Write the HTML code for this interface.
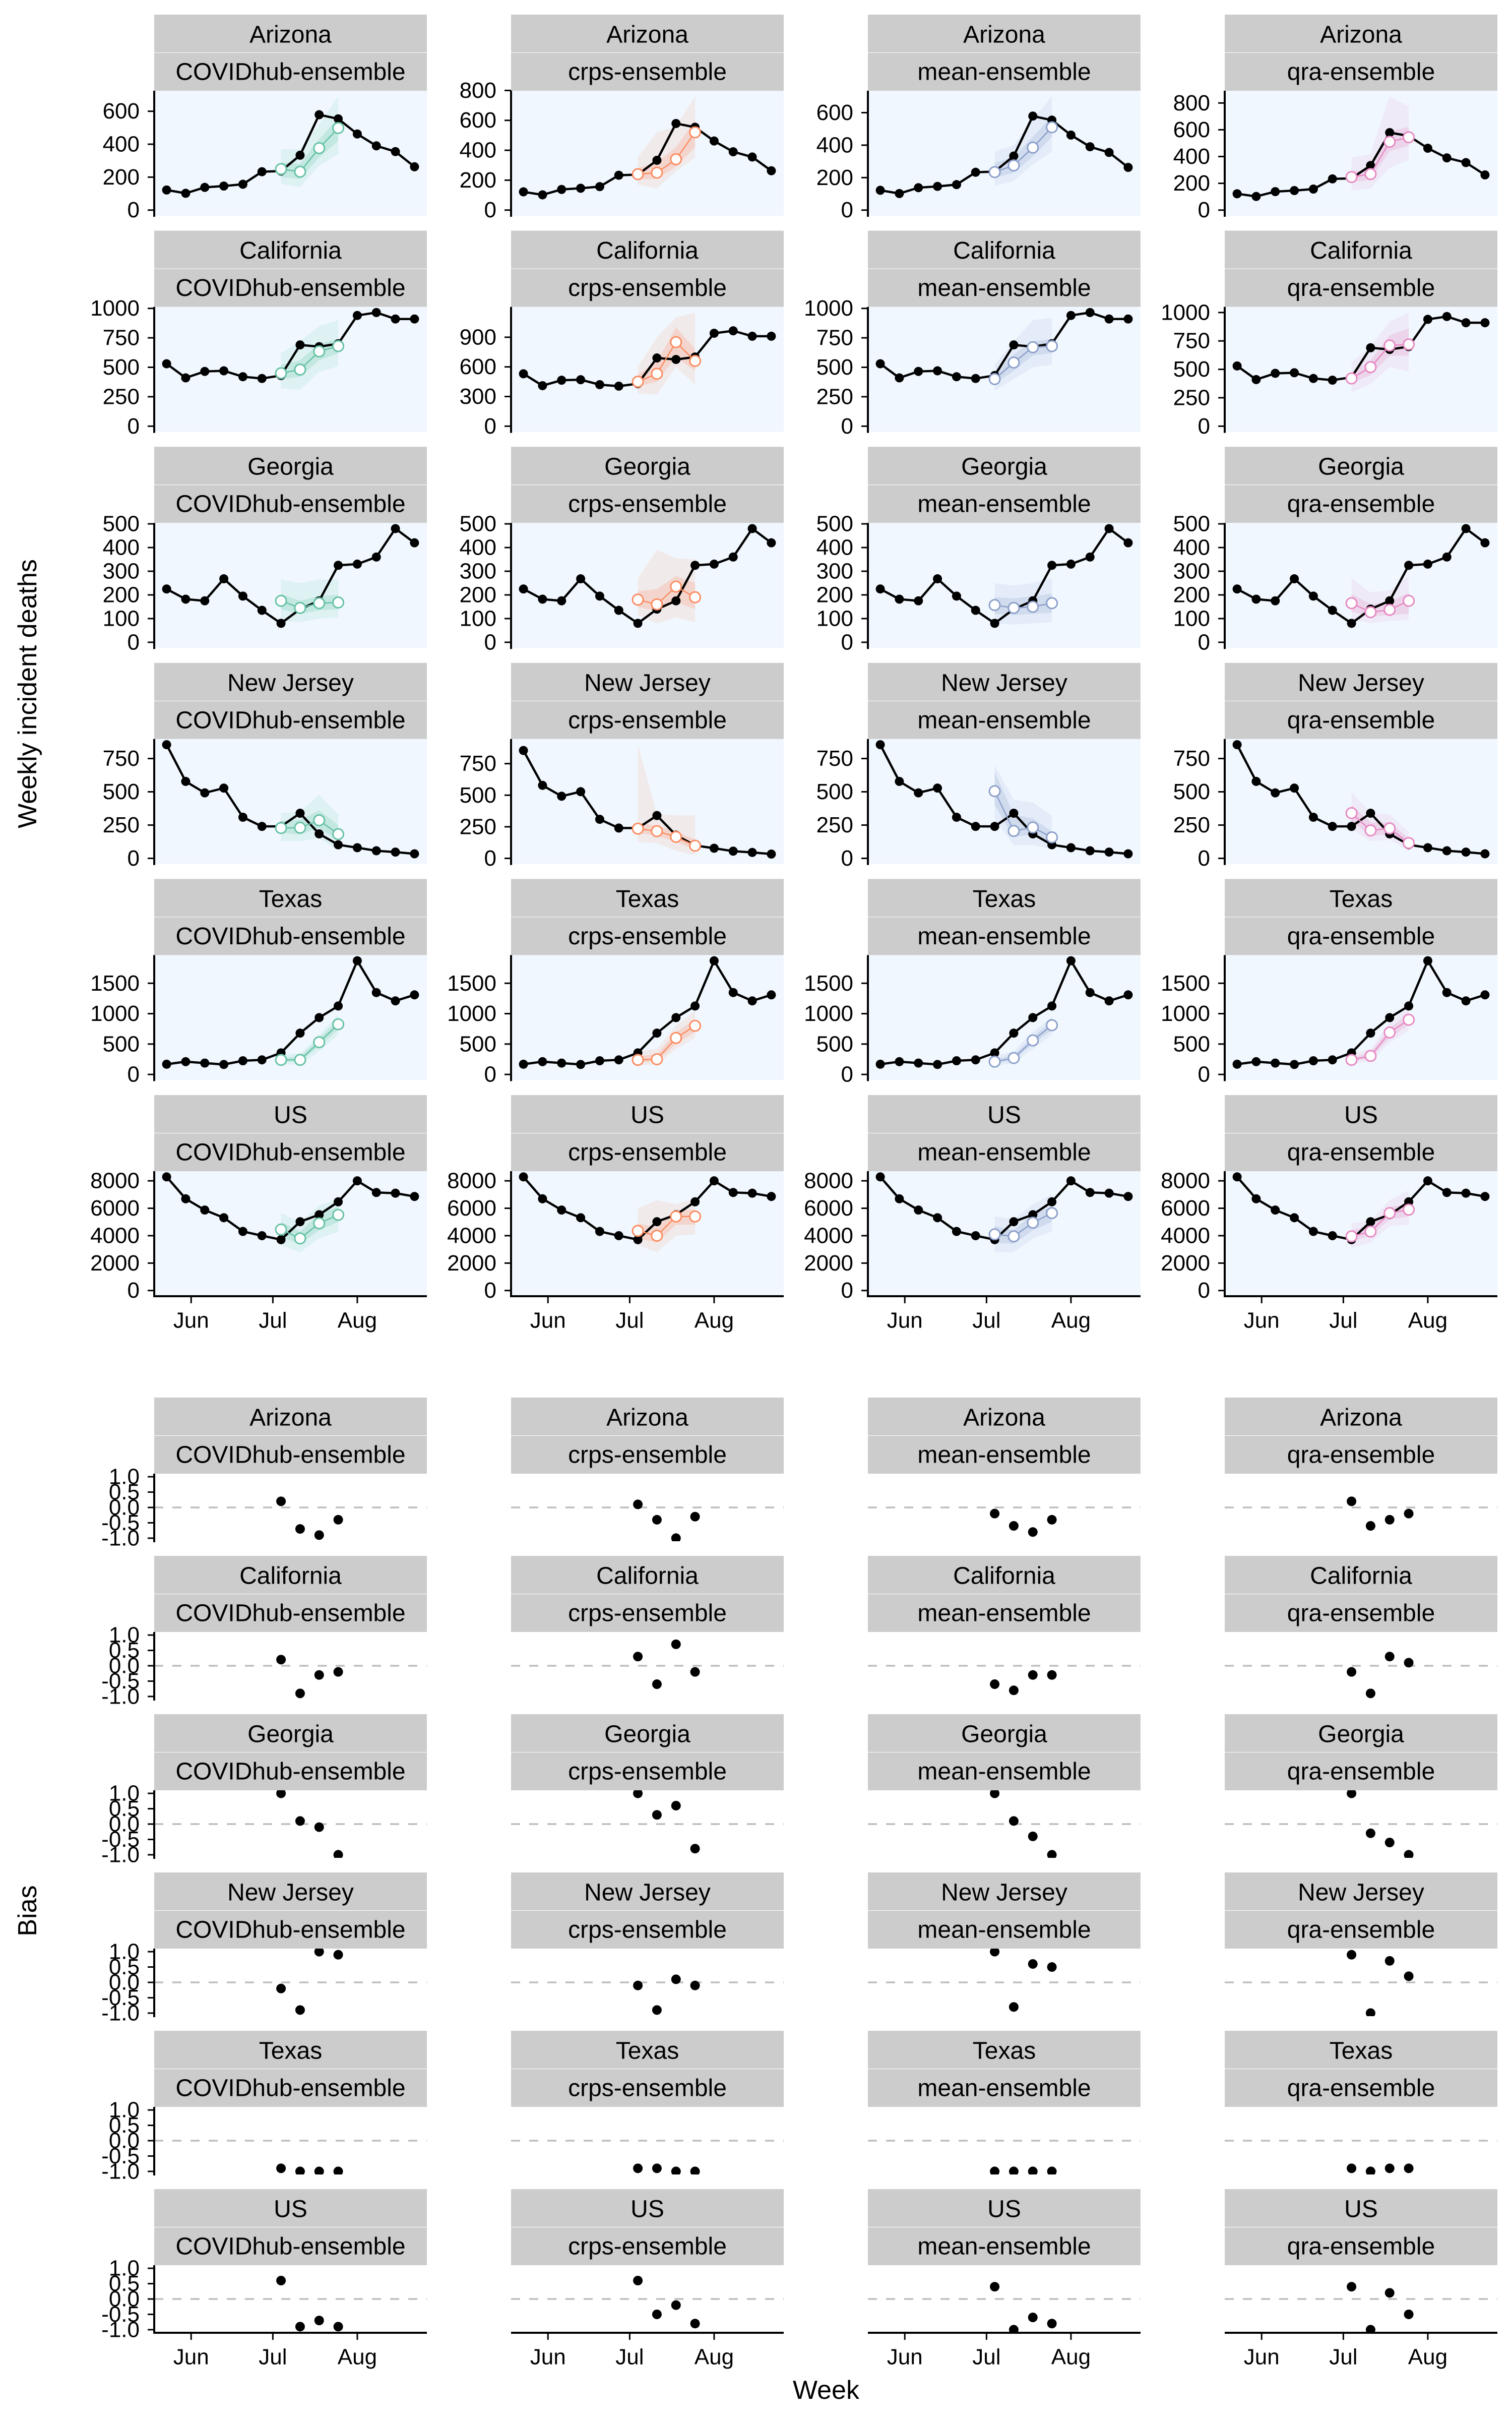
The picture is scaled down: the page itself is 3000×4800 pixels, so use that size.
<!DOCTYPE html>
<html><head><meta charset="utf-8"><style>
html,body{margin:0;padding:0;background:#fff;}
svg{display:block;font-family:"Liberation Sans",Arial,sans-serif;}
</style></head><body>
<svg id="chart" xmlns="http://www.w3.org/2000/svg" width="3000" height="4800" viewBox="0 0 3000 4800">
<rect width="3000" height="4800" fill="#fff"/>
<text x="55" y="1376" font-size="52" text-anchor="middle" dominant-baseline="central" transform="rotate(-90 55 1376)">Weekly incident deaths</text>
<text x="55" y="3790" font-size="52" text-anchor="middle" dominant-baseline="central" transform="rotate(-90 55 3790)">Bias</text>
<text x="1639" y="4741" font-size="52" text-anchor="middle" dominant-baseline="central">Week</text>
</svg>
<script>
const weeks = ["2020-05-23","2020-05-30","2020-06-06","2020-06-13","2020-06-20","2020-06-27","2020-07-04","2020-07-11","2020-07-18","2020-07-25","2020-08-01","2020-08-08","2020-08-15","2020-08-22"];
const fcWeeks = ["2020-07-04","2020-07-11","2020-07-18","2020-07-25"];
const xTickDates = ["2020-06-01","2020-07-01","2020-08-01"];
const xTickLabels = ["Jun","Jul","Aug"];
const states = ["Arizona","California","Georgia","New Jersey","Texas","US"];
const models = ["COVIDhub-ensemble","crps-ensemble","mean-ensemble","qra-ensemble"];
const modelColors = ["#66c2a5","#fc8d62","#8da0cb","#e78ac3"];
const biasTicks = [1.0,0.5,0.0,-0.5,-1.0];
const biasTickLabels = ["1.0","0.5","0.0","-0.5","-1.0"];

const obsArizona = [122,102,138,146,157,233,237,333,579,554,462,390,355,263];
const obsCalifornia = [530,410,465,470,420,405,430,690,675,700,940,965,910,910];
const obsGeorgia = [225,182,175,268,195,135,80,140,175,325,330,360,480,420];
const obsNewJersey = [854,578,492,528,309,240,240,339,184,102,80,57,47,34];
const obsTexas = [168,210,187,164,225,240,355,680,935,1126,1870,1347,1210,1309];
const obsUS = [8290,6690,5870,5310,4310,4000,3710,5020,5530,6470,8000,7150,7100,6860];

const medArizona = [[249,233,376,498],[240,250,340,520],[234,275,385,510],[247,269,510,544]];
const q05Arizona = [[160,140,270,340],[170,145,260,350],[150,180,280,360],[146,163,315,375]];
const q25Arizona = [[200,190,320,420],[205,210,290,420],[200,230,330,450],[210,225,440,480]];
const q75Arizona = [[290,280,430,560],[280,320,420,600],[290,330,450,580],[290,300,590,620]];
const q95Arizona = [[370,370,520,690],[355,520,560,760],[360,400,560,700],[392,417,849,773]];

const medCalifornia = [[450,480,635,680],[450,530,850,660],[400,540,670,680],[420,520,710,720]];
const q05California = [[320,310,460,510],[330,320,600,420],[300,400,500,520],[300,370,520,480]];
const q25California = [[400,420,560,620],[400,450,700,560],[360,470,600,620],[380,450,620,620]];
const q75California = [[520,560,700,740],[520,650,1000,780],[450,610,720,740],[470,580,800,860]];
const q95California = [[620,720,850,900],[600,900,1100,1150],[520,720,900,920],[560,700,920,1000]];

const medGeorgia = [[175,145,165,168],[180,160,235,190],[157,145,150,165],[165,127,137,175]];
const q05Georgia = [[90,85,100,105],[115,80,105,85],[80,75,80,85],[100,80,90,95]];
const q25Georgia = [[140,120,135,140],[150,130,170,140],[120,115,120,125],[130,110,115,120]];
const q75Georgia = [[205,175,195,200],[215,225,280,250],[190,185,195,205],[205,160,170,210]];
const q95Georgia = [[265,250,265,265],[270,390,355,350],[250,240,250,270],[270,210,220,280]];

const medNewJersey = [[228,230,286,182],[235,215,170,100],[505,206,232,158],[340,210,225,115]];
const q05NewJersey = [[130,130,150,60],[130,120,60,20],[300,100,100,70],[220,130,140,60]];
const q25NewJersey = [[190,180,230,130],[200,180,130,70],[400,160,180,120],[280,170,180,90]];
const q75NewJersey = [[280,290,360,250],[280,260,210,150],[650,330,300,200],[400,270,270,150]];
const q95NewJersey = [[340,350,480,330],[900,350,340,340],[700,440,420,320],[500,340,330,200]];

const medTexas = [[240,240,530,825],[240,250,600,800],[210,270,560,810],[240,305,690,900]];
const q05Texas = [[170,160,380,650],[150,160,420,600],[150,180,420,650],[170,220,520,720]];
const q25Texas = [[210,210,460,740],[200,210,500,700],[180,230,500,730],[210,270,600,820]];
const q75Texas = [[280,290,600,900],[300,330,700,900],[250,320,620,880],[280,360,770,980]];
const q95Texas = [[330,340,650,980],[380,420,800,1050],[300,380,700,950],[330,420,850,1100]];

const medUS = [[4450,3800,4900,5520],[4350,4000,5400,5400],[4100,3950,4950,5650],[3950,4300,5650,5900]];
const q05US = [[3300,2800,3800,4300],[3300,2800,4000,4100],[2800,2800,3800,4300],[3100,3500,4700,4800]];
const q25US = [[3900,3400,4400,5000],[3800,3500,4800,4800],[3500,3400,4400,5000],[3600,4000,5200,5400]];
const q75US = [[5000,4300,5600,6100],[4900,4600,5900,5900],[4700,4400,5600,6100],[4400,4700,6100,6300]];
const q95US = [[5650,5000,6200,6700],[6000,6600,6300,6700],[5400,5200,6300,7000],[4900,5100,6600,7300]];

const ticksArizona = [[0,200,400,600],[0,200,400,600,800],[0,200,400,600],[0,200,400,600,800]];
const ticksCalifornia = [[0,250,500,750,1000],[0,300,600,900],[0,250,500,750,1000],[0,250,500,750,1000]];
const ticksGeorgia = [[0,100,200,300,400,500],[0,100,200,300,400,500],[0,100,200,300,400,500],[0,100,200,300,400,500]];
const ticksNewJersey = [[0,250,500,750],[0,250,500,750],[0,250,500,750],[0,250,500,750]];
const ticksTexas = [[0,500,1000,1500],[0,500,1000,1500],[0,500,1000,1500],[0,500,1000,1500]];
const ticksUS = [[0,2000,4000,6000,8000],[0,2000,4000,6000,8000],[0,2000,4000,6000,8000],[0,2000,4000,6000,8000]];

const biasArizona = [[0.2,-0.7,-0.9,-0.4],[0.1,-0.4,-1.0,-0.3],[-0.2,-0.6,-0.8,-0.4],[0.2,-0.6,-0.4,-0.2]];
const biasCalifornia = [[0.2,-0.9,-0.3,-0.2],[0.3,-0.6,0.7,-0.2],[-0.6,-0.8,-0.3,-0.3],[-0.2,-0.9,0.3,0.1]];
const biasGeorgia = [[1.0,0.1,-0.1,-1.0],[1.0,0.3,0.6,-0.8],[1.0,0.1,-0.4,-1.0],[1.0,-0.3,-0.6,-1.0]];
const biasNewJersey = [[-0.2,-0.9,1.0,0.9],[-0.1,-0.9,0.1,-0.1],[1.0,-0.8,0.6,0.5],[0.9,-1.0,0.7,0.2]];
const biasTexas = [[-0.9,-1.0,-1.0,-1.0],[-0.9,-0.9,-1.0,-1.0],[-1.0,-1.0,-1.0,-1.0],[-0.9,-1.0,-0.9,-0.9]];
const biasUS = [[0.6,-0.9,-0.7,-0.9],[0.6,-0.5,-0.2,-0.8],[0.4,-1.0,-0.6,-0.8],[0.4,-1.0,0.2,-0.5]];

const obsAll = [obsArizona,obsCalifornia,obsGeorgia,obsNewJersey,obsTexas,obsUS];
const medAll = [medArizona,medCalifornia,medGeorgia,medNewJersey,medTexas,medUS];
const q05All = [q05Arizona,q05California,q05Georgia,q05NewJersey,q05Texas,q05US];
const q25All = [q25Arizona,q25California,q25Georgia,q25NewJersey,q25Texas,q25US];
const q75All = [q75Arizona,q75California,q75Georgia,q75NewJersey,q75Texas,q75US];
const q95All = [q95Arizona,q95California,q95Georgia,q95NewJersey,q95Texas,q95US];
const ticksAll = [ticksArizona,ticksCalifornia,ticksGeorgia,ticksNewJersey,ticksTexas,ticksUS];
const biasAll = [biasArizona,biasCalifornia,biasGeorgia,biasNewJersey,biasTexas,biasUS];

const NS = "http://www.w3.org/2000/svg";
const svg = document.getElementById("chart");
function mk(tag, parent){ const e = document.createElementNS(NS, tag); (parent||svg).appendChild(e); return e; }
function set(e, a){ for (const k in a) e.setAttribute(k, a[k]); return e; }

const PW = 541;
function colLeft(c){ return 306 + 708 * c; }
const t0 = Date.parse(weeks[0]), t1 = Date.parse(weeks[weeks.length-1]);
function xPos(left, d){ const t = Date.parse(d); const span = t1 - t0; return left + (t - (t0 - 0.05*span)) / (1.1*span) * PW; }

function strip(left, top, state, model, g){
  const r1 = set(mk("rect", g), {x:left, y:top, width:PW, height:75, fill:"#cccccc"});
  
  
  const r2 = set(mk("rect", g), {x:left, y:top+76, width:PW, height:75, fill:"#cccccc"});
  
  
  const t1e = set(mk("text", g), {x:left+PW/2, y:top+40, "font-size":48, "text-anchor":"middle", "dominant-baseline":"central"});
  t1e.textContent = state;
  
  
  const t2e = set(mk("text", g), {x:left+PW/2, y:top+114, "font-size":48, "text-anchor":"middle", "dominant-baseline":"central"});
  t2e.textContent = model;
  
  
}

function xAxis(left, bottom, g){
  const ax = set(mk("line", g), {x1:left, x2:left+PW, y1:bottom, y2:bottom, stroke:"#000", "stroke-width":4});
  
  
  xTickDates.forEach((d,i)=>{
    const x = xPos(left, d);
    const tk = set(mk("line", g), {x1:x, x2:x, y1:bottom, y2:bottom+14, stroke:"#000", "stroke-width":3});
    
    
    const lb = set(mk("text", g), {x:x, y:bottom+48, "font-size":44, "text-anchor":"middle", "dominant-baseline":"central"});
    lb.textContent = xTickLabels[i];
    
    
  });
}

let clipId = 0;
// Forecast panels
for (let s = 0; s < states.length; s++){
  for (let m = 0; m < models.length; m++){
    const left = colLeft(m);
    const top = 29 + 428.6 * s;
    const ptop = top + 151, ph = 248, pbot = ptop + ph;
    const g = mk("g");
    
    
    strip(left, top, states[s], models[m], g);
    const bg = set(mk("rect", g), {x:left, y:ptop, width:PW, height:ph, fill:"#f0f7fe"});
    
    
    const obs = obsAll[s], med = medAll[s][m], q05 = q05All[s][m], q25 = q25All[s][m], q75 = q75All[s][m], q95 = q95All[s][m];
    const mx = Math.max(...obs, ...med, ...q95);
    const yPos = v => pbot - (v + 0.05*mx) / (1.1*mx) * ph;
    clipId++;
    const cp = set(mk("clipPath", g), {id:"c"+clipId});
    set(mk("rect", cp), {x:left, y:ptop, width:PW, height:ph});
    const dg = set(mk("g", g), {"clip-path":"url(#c"+clipId+")"});
    
    
    const col = modelColors[m];
    const band = (lo, hi, op, name) => {
      const up = fcWeeks.map((d,i)=>xPos(left,d)+","+yPos(hi[i]));
      const dn = fcWeeks.map((d,i)=>xPos(left,d)+","+yPos(lo[i])).reverse();
      const p = set(mk("polygon", dg), {points: up.concat(dn).join(" "), fill: col, "fill-opacity": op});
      
      
    };
    band(q05, q95, 0.12, 'ribbon-90');
    band(q25, q75, 0.22, 'ribbon-50');
    const ol = set(mk("polyline", dg), {points: weeks.map((d,i)=>xPos(left,d)+","+yPos(obs[i])).join(" "), fill:"none", stroke:"#000", "stroke-width":4.5});
    
    
    weeks.forEach((d,i)=>{
      const c = set(mk("circle", dg), {cx:xPos(left,d), cy:yPos(obs[i]), r:9, fill:"#000"});
      
      
    });
    const fl = set(mk("polyline", dg), {points: fcWeeks.map((d,i)=>xPos(left,d)+","+yPos(med[i])).join(" "), fill:"none", stroke:col, "stroke-width":2.5});
    
    
    fcWeeks.forEach((d,i)=>{
      const c = set(mk("circle", dg), {cx:xPos(left,d), cy:yPos(med[i]), r:10.5, fill:"#fff", stroke:col, "stroke-width":3});
      
      
    });
    const ya = set(mk("line", g), {x1:left, x2:left, y1:ptop, y2:pbot+2, stroke:"#000", "stroke-width":4});
    
    
    ticksAll[s][m].forEach(v=>{
      const y = yPos(v);
      const tk = set(mk("line", g), {x1:left-13, x2:left, y1:y, y2:y, stroke:"#000", "stroke-width":3});
      
      
      const lb = set(mk("text", g), {x:left-29, y:y, "font-size":44, "text-anchor":"end", "dominant-baseline":"central"});
      lb.textContent = String(v);
      
      
    });
    if (s === states.length-1) xAxis(left, pbot, g);
  }
}

// Bias panels
for (let s = 0; s < states.length; s++){
  for (let m = 0; m < models.length; m++){
    const left = colLeft(m);
    const top = 2772 + 314 * s;
    const ptop = top + 151, ph = 134, pbot = ptop + ph;
    const g = mk("g");
    
    
    strip(left, top, states[s], models[m], g);
    const yPos = v => pbot - (v + 1.1) / 2.2 * ph;
    const zl = set(mk("line", g), {x1:left, x2:left+PW, y1:yPos(0), y2:yPos(0), stroke:"#bdbdbd", "stroke-width":3.5, "stroke-dasharray":"18 18"});
    
    
    clipId++;
    const cp = set(mk("clipPath", g), {id:"c"+clipId});
    set(mk("rect", cp), {x:left, y:ptop, width:PW, height:ph});
    const dg = set(mk("g", g), {"clip-path":"url(#c"+clipId+")"});
    
    
    fcWeeks.forEach((d,i)=>{
      const c = set(mk("circle", dg), {cx:xPos(left,d), cy:yPos(biasAll[s][m][i]), r:9.5, fill:"#000"});
      
      
    });
    if (m === 0){
      const ya = set(mk("line", g), {x1:left, x2:left, y1:ptop, y2:pbot+2, stroke:"#000", "stroke-width":4});
      
      
      biasTicks.forEach((v,i)=>{
        const y = yPos(v);
        const tk = set(mk("line", g), {x1:left-13, x2:left, y1:y, y2:y, stroke:"#000", "stroke-width":3});
        
        
        const lb = set(mk("text", g), {x:left-29, y:y, "font-size":44, "text-anchor":"end", "dominant-baseline":"central"});
        lb.textContent = biasTickLabels[i];
        
        
      });
    }
    if (s === states.length-1) xAxis(left, pbot, g);
  }
}
</script>
</body></html>
